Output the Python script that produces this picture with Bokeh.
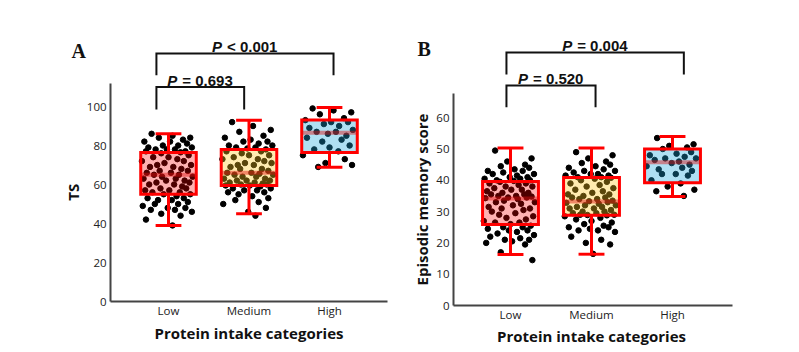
import math
from bokeh.plotting import figure
from bokeh.layouts import row
from bokeh.models import Range1d, FixedTicker
from bokeh.core.properties import value
from bokeh.embed import file_html
from bokeh.resources import INLINE

categories = ["Low", "Medium", "High"]
x_title = "Protein intake categories"

# ---- Panel A : TS ----
ts_low = [86, 85, 84, 84, 83, 82, 82, 81, 80, 80, 79, 79, 78, 78, 78, 77, 77, 76.5,
          76, 75, 74, 74, 73, 72, 72, 71, 70, 70, 69, 69, 68, 67, 67, 66, 66, 65, 65,
          64, 64, 63, 63, 62, 62, 61, 61, 60, 60, 59, 58, 58, 57, 57, 56, 56, 55, 55,
          54, 53, 53, 52, 52, 51, 50, 50, 49, 48, 48, 47, 47, 46, 45, 44, 42, 39]
ts_medium = [92, 90, 88, 87, 85, 84, 83, 82, 82, 81, 80, 80, 79, 79, 78.5,
             78, 77, 77, 76, 75, 75, 74, 73, 73, 72, 71, 71, 70, 70, 69, 68, 68, 67, 66, 66,
             65.5, 65, 65, 64, 64, 63, 63, 62, 62, 62, 61, 61, 60.5, 60, 60, 59.5, 59.5,
             59, 58, 58, 57, 57, 56, 56, 55, 54, 53, 52, 51, 50, 48, 46, 44]
ts_high = [99, 98, 97, 96, 94, 93, 92, 92, 91, 90, 89, 88, 87, 87, 86, 85, 84, 83,
           82, 80, 79, 78, 77, 75, 73, 71, 70, 69]
# box statistics per category: lower whisker, Q1, median, Q3, upper whisker
ts_lower = [39, 45, 68.8]
ts_q1 = [55, 59.5, 76.4]
ts_median = [65, 66, 86.6]
ts_q3 = [76.4, 78, 93.1]
ts_upper = [86, 93, 99.5]
ts_p_labels = ["= 0.693", "< 0.001"]
ts_ticks = [0, 20, 40, 60, 80, 100]

# ---- Panel B : Episodic memory score ----
em_low = [49.5, 47, 46, 45, 44.5, 44, 43.5, 43, 43, 42.5, 42, 42, 41.5, 41, 41, 40.5, 40.5, 40, 40, 39.8,
          39.5, 39, 39, 38.5, 38, 38, 37.5, 37, 37, 36.5, 36, 36, 35.5, 35.5, 35, 35, 34.8, 34.5, 34.5, 34.3,
          34, 33.5, 33, 33, 32.5, 32, 31.5, 31, 31, 30.5, 30, 29.5, 29, 28.5, 28, 27.5, 27, 26.5, 26.5, 26,
          25.5, 25, 25, 24.5, 24, 24, 23.5, 23, 22.5, 22, 21.5, 21, 21, 20.5, 20, 19.5, 17, 14.5]
em_medium = [49, 48, 47, 46, 45.5, 45, 44.5, 44, 43.5, 43, 43, 42.5, 42, 42, 41.5, 41.5, 41, 41,
             40.8, 40.5, 40, 39.5, 39, 38.5, 38, 37.5, 37, 36.5, 36, 35.5, 35.5, 35, 34.5, 34.5, 34, 34, 33.5, 33.3,
             33, 32.8, 32.5, 32, 32, 31.5, 31.5, 31, 31, 30.5, 30, 30, 29.5, 29.5, 29, 29, 28.9, 28.8,
             28.5, 28, 27.5, 27, 26.5, 26, 25.5, 25, 25, 24.5, 24, 24, 23.5, 22, 21, 20, 19.5, 16.5]
em_high = [53.5, 51.5, 51, 50.5, 50, 49, 48.5, 48, 47.5, 47, 47, 46.5, 46, 45.5, 45, 44.5, 44, 43.5,
           43, 42, 42, 41.5, 40, 39, 38, 37, 36.5, 35]
em_lower = [16.3, 16.4, 34.8]
em_q1 = [25.9, 28.8, 39.2]
em_median = [34.2, 33.2, 45.8]
em_q3 = [39.6, 40.9, 50]
em_upper = [50.3, 50.3, 54]
em_p_labels = ["= 0.520", "= 0.004"]
em_ticks = [0, 10, 20, 30, 40, 50, 60]

# horizontal jitter of the dots (in category units)
jitter = [
    -0.21, 0.05, 0.27, -0.12, 0.18, -0.30, 0.02, 0.23, -0.07, 0.12,
    -0.25, 0.29, -0.16, 0.08, -0.02, 0.21, -0.28, 0.15, -0.09, 0.25,
    0.00, -0.19, 0.11, -0.33, 0.19, -0.05, 0.28, -0.14, 0.06, -0.23,
    0.16, -0.11, 0.24, -0.27, 0.03, 0.13, -0.18, 0.30, -0.08, 0.09,
    -0.31, 0.20, -0.03, 0.26, -0.15, 0.07, -0.24, 0.17, -0.10, 0.22,
    -0.29, 0.01, 0.14, -0.20, 0.27, -0.06, 0.10, -0.26, 0.19, -0.13,
    0.04, 0.24, -0.17, 0.12, -0.32, 0.21, -0.01, 0.08, -0.22, 0.29,
    -0.09, 0.15, -0.28, 0.05, 0.23, -0.12, 0.18, -0.04, 0.26, -0.19,
]

FILL = ["#FF0000", "#FFC81E", "#1AA6DD"]
FILL_ALPHA = [0.3, 0.35, 0.35]
BOX_W = 0.69
CAP_HALF = 0.16
AXIS_SPAN = 3.44
INK = "#111111"


def panel(letter, groups, lower, q1, med, q3, upper, p_labels, ylabel, yticks,
          width, xr, yr, axis_x, ybound, brackets, ylab_dx, xlab_dy, letter_off, jit):
    p = figure(width=width, height=352, x_range=Range1d(*xr), y_range=Range1d(*yr),
               output_backend="svg", toolbar_location=None, min_border=0)
    p.outline_line_color = None
    p.grid.visible = False
    p.background_fill_color = "white"
    p.border_fill_color = "white"

    idx = list(range(len(categories)))
    # dots
    for i, vals in enumerate(groups):
        xs = [i + j for j in jit[:len(vals)]]
        p.scatter(xs, vals, size=5.5, color="black")
    # boxes
    p.vbar(x=idx, bottom=q1, top=q3, width=BOX_W, fill_color=FILL, fill_alpha=FILL_ALPHA,
           line_color="#FF0000", line_width=3, line_join="miter")
    p.segment(x0=[i - BOX_W / 2 for i in idx], y0=med, x1=[i + BOX_W / 2 for i in idx], y1=med,
              line_color="#E01010", line_alpha=0.45, line_width=4)
    # whiskers
    p.segment(x0=idx, y0=q3, x1=idx, y1=upper, line_color="#FF0000", line_width=3)
    p.segment(x0=idx, y0=q1, x1=idx, y1=lower, line_color="#FF0000", line_width=3)
    p.segment(x0=[i - CAP_HALF for i in idx], y0=upper, x1=[i + CAP_HALF for i in idx], y1=upper,
              line_color="#FF0000", line_width=3)
    p.segment(x0=[i - CAP_HALF for i in idx], y0=lower, x1=[i + CAP_HALF for i in idx], y1=lower,
              line_color="#FF0000", line_width=3)

    # significance brackets
    for (a, b, xa, xb, top, drop), lab in zip(brackets, p_labels):
        x0 = a + xa
        x1 = b + xb
        p.line([x0, x0, x1, x1], [top - drop, top, top, top - drop], line_color=INK,
               line_width=2, line_join="miter")
        xc = (x0 + x1) / 2
        p.text(x=[xc], y=[top], text=["P"], text_font=value("Liberation Sans"),
               text_font_style="bold italic", text_font_size="15px", text_align="left",
               text_baseline="alphabetic", x_offset=-33, y_offset=-7, text_color=INK)
        p.text(x=[xc], y=[top], text=[lab], text_font=value("Liberation Sans"),
               text_font_style="bold", text_font_size="15px", text_align="left",
               text_baseline="alphabetic", x_offset=-18, y_offset=-7, text_color=INK)

    # panel letter, anchored at the top of the y axis
    p.text(x=[axis_x], y=[ybound], text=[letter], text_font=value("Liberation Serif"),
           text_font_style="bold", text_font_size="20px", text_align="left",
           text_baseline="alphabetic", x_offset=letter_off[0], y_offset=letter_off[1],
           text_color=INK)
    # axis titles
    p.text(x=[axis_x], y=[ybound / 2], text=[ylabel], text_font=value("Open Sans"),
           text_font_style="bold", text_font_size="15px", text_align="center",
           text_baseline="middle", angle=math.pi / 2, x_offset=ylab_dx, text_color=INK)
    p.text(x=[(len(categories) - 1) / 2], y=[0], text=[x_title], text_font=value("Open Sans"),
           text_font_style="bold", text_font_size="15px", text_align="center",
           text_baseline="middle", y_offset=xlab_dy, text_color=INK)

    # axes (fixed to data locations)
    xa_ = p.xaxis[0]
    xa_.fixed_location = 0
    xa_.bounds = (axis_x, axis_x + AXIS_SPAN)
    xa_.ticker = FixedTicker(ticks=idx)
    xa_.major_label_overrides = {i: c for i, c in enumerate(categories)}
    ya = p.yaxis[0]
    ya.fixed_location = axis_x
    ya.ticker = FixedTicker(ticks=yticks)
    ya.bounds = (0, ybound)
    for ax in (xa_, ya):
        ax.axis_label = None
        ax.axis_line_color = "#444444"
        ax.axis_line_width = 2
        ax.major_tick_line_color = None
        ax.minor_tick_line_color = None
        ax.major_tick_out = 0
        ax.major_tick_in = 0
        ax.major_label_text_font = "Open Sans"
        ax.major_label_text_font_size = "11.5px"
        ax.major_label_text_color = "#222222"
    xa_.major_label_standoff = 1
    ya.major_label_standoff = 4
    return p


# Panel A: frame covers the whole 399x352 area; Low at x=168 px, 80.5 px per category,
# y = 0 at 301 px, 1.95 px per unit
pA = panel("A", [ts_low, ts_medium, ts_high], ts_lower, ts_q1, ts_median, ts_q3, ts_upper,
           ts_p_labels, "TS", ts_ticks, 399,
           (-168 / 80.5, 231 / 80.5), (-51 / 1.95, 301 / 1.95), -0.72, 112,
           [(0, 1, -0.15, -0.06, 110, 11.5), (0, 2, -0.15, 0.05, 127.2, 11.2)],
           -38, 31, (-39, -32), jitter)

# Panel B: Low at x=111 px (local), 81 px per category, y = 0 at 305 px, 3.13 px per unit
pB = panel("B", [em_low, em_medium, em_high], em_lower, em_q1, em_median, em_q3, em_upper,
           em_p_labels, "Episodic memory score", em_ticks, 400,
           (-111 / 81, 289 / 81), (-47 / 3.13, 305 / 3.13), -0.704, 67.7,
           [(0, 1, -0.05, 0.05, 70.3, 7.0), (0, 2, -0.05, 0.14, 80.8, 7.0)],
           -31, 30, (-36, -45), jitter[::-1])

layout = row(pA, pB)
open("out.html", "w").write(file_html(layout, INLINE))
